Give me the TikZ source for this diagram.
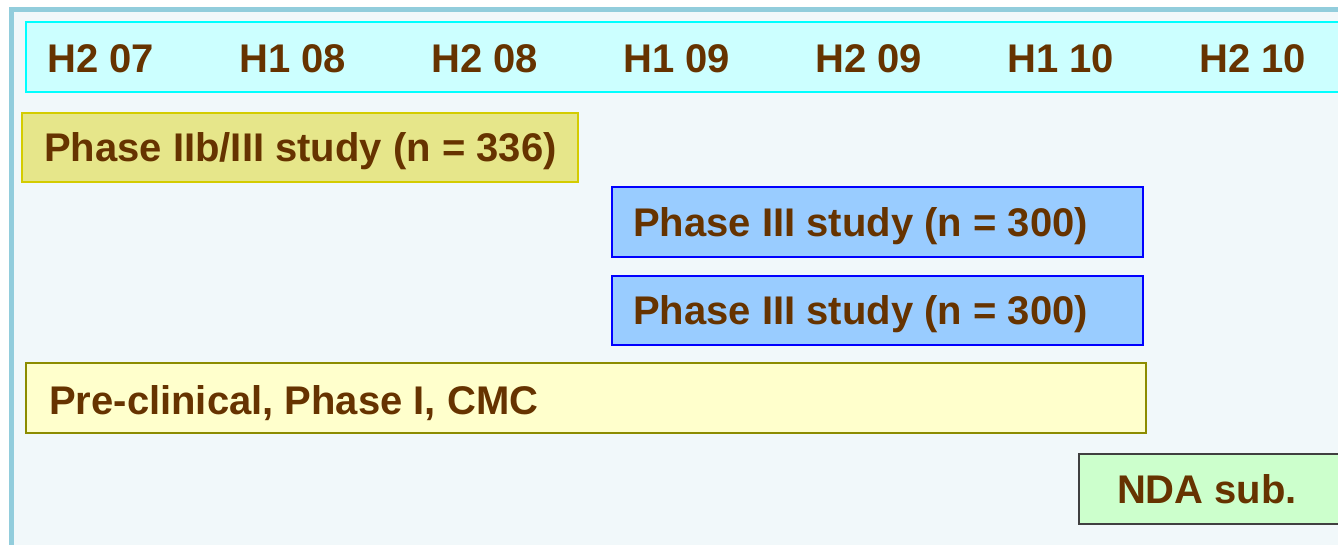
\documentclass[tikz,border=0pt]{standalone}
\usepackage{fontspec}
\setmainfont{Liberation Sans}
\definecolor{txt}{HTML}{663300}
\definecolor{framec}{HTML}{92CDDC}
\definecolor{bgc}{HTML}{F1F8FA}
\definecolor{hdrfill}{HTML}{CCFFFF}
\definecolor{hdrdraw}{HTML}{00FFFF}
\definecolor{ybfill}{HTML}{E6E68A}
\definecolor{ybdraw}{HTML}{D4CC00}
\definecolor{bluefill}{HTML}{99CCFF}
\definecolor{bluedraw}{HTML}{0000FF}
\definecolor{pcfill}{HTML}{FFFFCC}
\definecolor{pcdraw}{HTML}{8C8C00}
\definecolor{ndafill}{HTML}{CCFFCC}
\definecolor{ndadraw}{HTML}{404040}
\tikzset{
  lbl/.style={text=txt, font=\fontsize{40}{44}\selectfont\bfseries, text height=28.6pt, text depth=0pt, inner sep=0pt},
  barbox/.style={anchor=north west, line width=2.5pt, inner sep=0pt, outer sep=0pt},
  hdrbox/.style={anchor=north west, fill=hdrfill, draw=hdrdraw, line width=2pt, inner sep=0pt, outer sep=0pt},
}
\begin{document}
\begin{tikzpicture}[x=1pt,y=-1pt]
\useasboundingbox (0,0) rectangle (1338,545);
\fill[white] (0,0) rectangle (1338,545);
\draw[framec, line width=5pt, fill=bgc] (11.5,9.5) rectangle (1400,600);
% header
\node[hdrbox, minimum width=1330pt, minimum height=70pt] (head) at (26,22) {};
\foreach \t [count=\i from 0] in {H2 07,H1 08,H2 08,H1 09,H2 09,H1 10,H2 10}{
  \node[lbl] (h\i) at (100.5+192*\i,58) {\t};
}
% bars
\node[barbox, fill=ybfill, draw=ybdraw, minimum width=556pt, minimum height=69pt] (p2b) at (22,113) {};
\node[lbl, anchor=west] (p2bt) at ([xshift=22pt]p2b.west) {Phase IIb/III study (n = 336)};
\node[barbox, fill=bluefill, draw=bluedraw, minimum width=531pt, minimum height=70pt] (p3a) at (612,187) {};
\node[lbl, anchor=west] (p3at) at ([xshift=21pt]p3a.west) {Phase III study (n = 300)};
\node[barbox, fill=bluefill, draw=bluedraw, minimum width=531pt, minimum height=69pt] (p3b) at (612,276) {};
\node[lbl, anchor=west] (p3bt) at ([xshift=21pt]p3b.west) {Phase III study (n = 300)};
\node[barbox, fill=pcfill, draw=pcdraw, minimum width=1120pt, minimum height=70pt] (pre) at (26,363) {};
\node[lbl, anchor=west] (pret) at ([xshift=23pt,yshift=-2pt]pre.west) {Pre-clinical, Phase I, CMC};
\node[barbox, fill=ndafill, draw=ndadraw, minimum width=262pt, minimum height=70pt] (nda) at (1079,454) {};
\node[lbl] (ndat) at ([xshift=-3pt]nda.center) {NDA sub.};
\end{tikzpicture}
\end{document}
